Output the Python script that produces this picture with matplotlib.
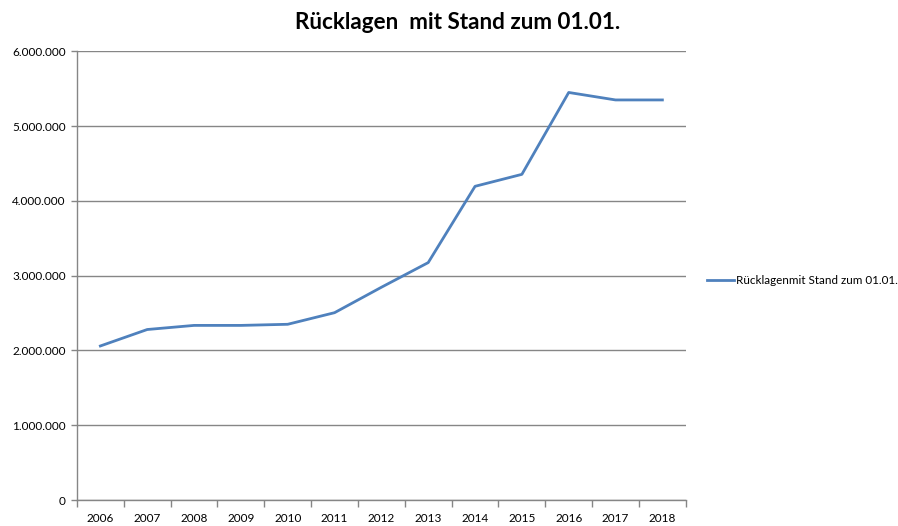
import matplotlib.pyplot as plt
from matplotlib.ticker import FixedLocator, FuncFormatter

years = ["2006", "2007", "2008", "2009", "2010", "2011", "2012",
         "2013", "2014", "2015", "2016", "2017", "2018"]
ruecklagen = [2060000, 2280000, 2335000, 2335000, 2350000, 2505000, 2845000,
              3175000, 4195000, 4355000, 5450000, 5350000, 5350000]
series_name = "Rücklagenmit Stand zum 01.01."
title = "Rücklagen  mit Stand zum 01.01."

plt.rcParams["font.family"] = ["Lato", "DejaVu Sans"]
grid_col = "#868686"

fig = plt.figure(figsize=(8.98, 5.26), dpi=100)
ax = fig.add_axes([0.0857, 0.0494, 0.678, 0.853])

x = list(range(len(years)))
ax.plot(x, ruecklagen, color="#4F81BD", linewidth=2.0, label=series_name,
        solid_joinstyle="round")

ax.set_xlim(-0.5, len(years) - 0.5)
ax.set_ylim(0, 6000000)
ax.set_yticks(range(0, 6000001, 1000000))
ax.yaxis.set_major_formatter(FuncFormatter(lambda v, p: f"{int(v):,}".replace(",", ".")))
ax.grid(axis="y", color=grid_col, linewidth=1.0)
ax.set_axisbelow(True)

ax.set_xticks(x)
ax.set_xticklabels(years)
ax.xaxis.set_minor_locator(FixedLocator([i - 0.5 for i in range(len(years) + 1)]))
ax.tick_params(axis="x", which="major", length=0, pad=9, labelsize=8.5, colors="#000000")
ax.tick_params(axis="x", which="minor", length=5, color=grid_col, width=1.0)
ax.tick_params(axis="y", length=4, color=grid_col, width=1.0, labelsize=8.5, pad=4)

for s in ["top", "right"]:
    ax.spines[s].set_visible(False)
for s in ["left", "bottom"]:
    ax.spines[s].set_color(grid_col)
    ax.spines[s].set_linewidth(1.0)

fig.text(0.51, 0.957, title, ha="center", va="center", fontsize=16.2, fontweight="bold")

ax.legend(loc="center left", bbox_to_anchor=(1.018, 0.49), frameon=False,
          fontsize=8.4, handlelength=2.3, handletextpad=0.2)

fig.savefig("out.png", dpi=100)
